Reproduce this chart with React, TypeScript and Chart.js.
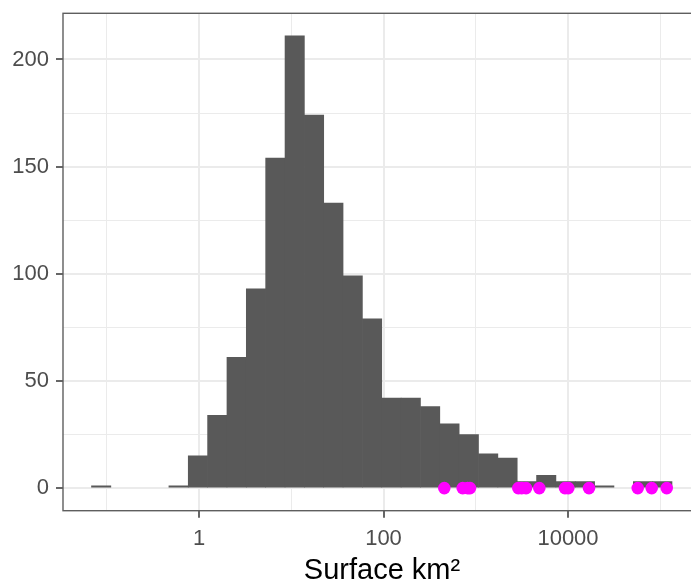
import React, { useEffect, useRef } from "react";
import { Chart, registerables } from "chart.js";

Chart.register(...registerables);

// Histogram bins (geometric bin centres, km²) and their counts
const binCenters = [
  0.0870, 0.1411, 0.2286, 0.3706, 0.6006, 0.9737, 1.578, 2.558, 4.146, 6.721,
  10.90, 17.66, 28.62, 46.39, 75.19, 121.9, 197.6, 320.2, 519.1, 841.4,
  1364, 2211, 3584, 5808, 9415, 15260, 24740, 40090, 64990, 105300,
];
const binCounts = [
  1, 0, 0, 0, 1, 15, 34, 61, 93, 154,
  211, 174, 133, 99, 79, 42, 42, 38, 30, 25,
  16, 14, 3, 6, 3, 3, 1, 0, 3, 3,
];

// Highlighted surfaces (magenta points on the zero line)
const pointAreas = [
  456, 722, 818, 866, 2893, 3148, 3508, 4887, 9277, 10076, 16890, 57000, 80800, 117500,
];
const pointLevel = 0;

// Axes
const xTickValues = [0.1, 1, 10, 100, 1000, 10000, 100000];
const xMajorTicks = [1, 100, 10000];
const xMajorLabels = ["1", "100", "10000"];
const yTickValues = [0, 25, 50, 75, 100, 125, 150, 175, 200];
const yMajorTicks = [0, 50, 100, 150, 200];
const xTitle = "Surface km²";

const X_MIN = 0.03355;
const X_MAX = 276500;
const Y_MIN = -10.55;
const Y_MAX = 221.55;

const FONT = "'Liberation Sans', Arial, Helvetica, sans-serif";

const isMajorX = (v: number) => xMajorTicks.some((m) => Math.abs(m - v) / m < 1e-6);
const isMajorY = (v: number) => yMajorTicks.includes(v);

const panelBorder = {
  id: "panelBorder",
  afterDraw(chart: any) {
    const { ctx, chartArea } = chart;
    ctx.save();
    ctx.strokeStyle = "#5e5e5e";
    ctx.lineWidth = 1.4;
    ctx.strokeRect(chartArea.left, chartArea.top, chartArea.right - chartArea.left, chartArea.bottom - chartArea.top);
    ctx.restore();
  },
};

export default function App() {
  const ref = useRef<HTMLCanvasElement | null>(null);

  useEffect(() => {
    document.body.style.margin = "0";
    const canvas = ref.current;
    if (!canvas) return;
    const bars = binCenters
      .map((c, i) => ({ x: c, y: binCounts[i] }))
      .filter((d) => d.y > 0);
    const chart = new Chart(canvas, {
      type: "bar",
      data: {
        datasets: [
          {
            type: "scatter",
            data: pointAreas.map((a) => ({ x: a, y: pointLevel })),
            backgroundColor: "#ff00ff",
            borderWidth: 0,
            pointRadius: 6.3,
            pointHoverRadius: 6.3,
            order: 1,
          } as any,
          {
            type: "bar",
            data: bars,
            backgroundColor: "#595959",
            borderWidth: 0,
            barPercentage: 1,
            categoryPercentage: 1,
            order: 2,
          } as any,
        ],
      },
      options: {
        animation: false,
        responsive: false,
        events: [],
        layout: { autoPadding: false, padding: { top: 13.3, right: 0, left: 0, bottom: 0 } },
        plugins: { legend: { display: false }, tooltip: { enabled: false } },
        scales: {
          x: {
            type: "logarithmic",
            min: X_MIN,
            max: X_MAX,
            offset: false,
            afterBuildTicks: (axis: any) => {
              axis.ticks = xTickValues.map((v) => ({ value: v }));
            },
            afterFit: (axis: any) => {
              axis.height = 71.3;
              axis.paddingLeft = 0;
              axis.paddingRight = 0;
            },
            border: { display: false },
            grid: {
              offset: false,
              color: "#ebebeb",
              lineWidth: (ctx: any) => (ctx.tick && isMajorX(ctx.tick.value) ? 2 : 1),
              tickColor: (ctx: any) => (ctx.tick && isMajorX(ctx.tick.value) ? "#333333" : "rgba(0,0,0,0)"),
              tickWidth: 1.5,
              tickLength: 7,
              drawTicks: true,
            },
            ticks: {
              autoSkip: false,
              maxRotation: 0,
              minRotation: 0,
              padding: 8,
              color: "#4d4d4d",
              font: { family: FONT, size: 22 },
              callback: (value: any) => {
                const idx = xMajorTicks.findIndex((m) => Math.abs(m - Number(value)) / m < 1e-6);
                return idx >= 0 ? xMajorLabels[idx] : "";
              },
            },
            title: {
              display: true,
              text: xTitle,
              color: "#000000",
              font: { family: FONT, size: 29, lineHeight: 0.75 },
              padding: 0,
            },
          },
          y: {
            type: "linear",
            min: Y_MIN,
            max: Y_MAX,
            afterBuildTicks: (axis: any) => {
              axis.ticks = yTickValues.map((v) => ({ value: v }));
            },
            afterFit: (axis: any) => {
              axis.width = 63;
              axis.paddingTop = 0;
              axis.paddingBottom = 0;
            },
            border: { display: false },
            grid: {
              color: "#ebebeb",
              lineWidth: (ctx: any) => (ctx.tick && isMajorY(ctx.tick.value) ? 2 : 1),
              tickColor: (ctx: any) => (ctx.tick && isMajorY(ctx.tick.value) ? "#333333" : "rgba(0,0,0,0)"),
              tickWidth: 1.5,
              tickLength: 7,
              drawTicks: true,
            },
            ticks: {
              autoSkip: false,
              padding: 7,
              color: "#4d4d4d",
              font: { family: FONT, size: 22 },
              callback: (value: any) => (isMajorY(Number(value)) ? String(value) : ""),
            },
          },
        },
      },
      plugins: [panelBorder],
    });
    return () => chart.destroy();
  }, []);

  return (
    <div style={{ width: 691, height: 582, overflow: "hidden" }}>
      <canvas ref={ref} width={701} height={582} style={{ display: "block" }} />
    </div>
  );
}
